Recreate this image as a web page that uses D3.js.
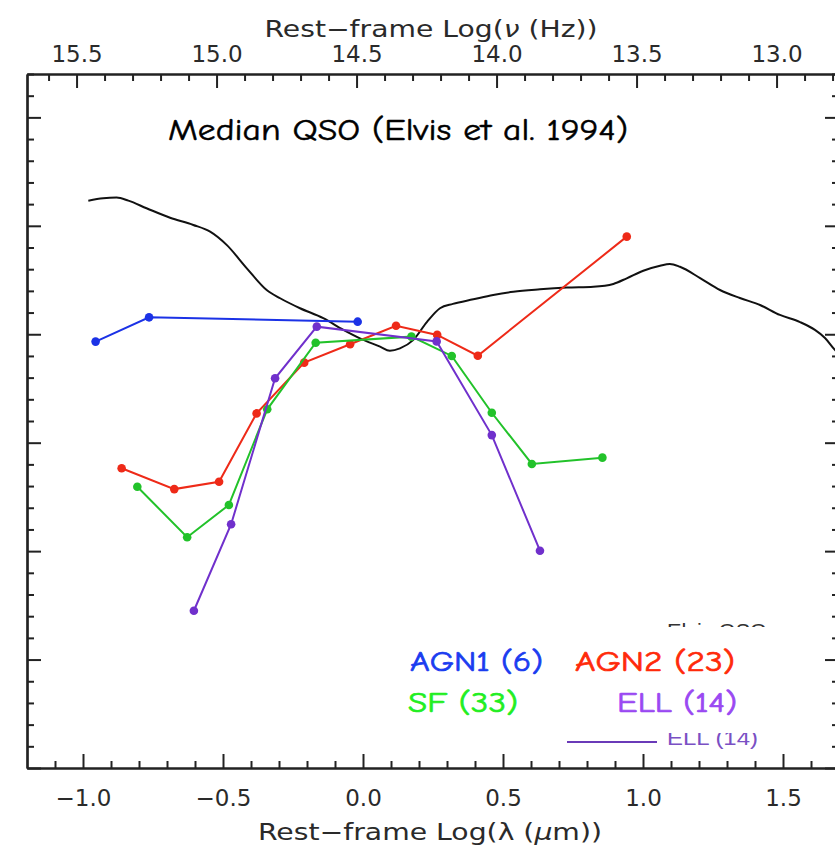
<!DOCTYPE html>
<html>
<head>
<meta charset="utf-8">
<script src="https://cdn.jsdelivr.net/npm/d3@7"></script>
<style>
  html, body { margin: 0; padding: 0; background: #fff; }
  svg { display: block; }
  .ax { font-family: "DejaVu Sans", sans-serif; fill: #2a2a2a; }
  .comic { font-family: "Comic Sans MS", "Comic Neue", "Open Sans", sans-serif; }
</style>
</head>
<body>
<svg id="chart" width="835" height="849"></svg>
<script>
// ---------------- DATA ----------------
// x: Rest-frame log(lambda / micron); y: normalised log(nu L_nu) (arbitrary units, axis unlabelled)
const agn1X = [-0.955, -0.764, -0.019];
const agn1Y = [-0.034, 0.078, 0.058];

const agn2X = [-0.862, -0.674, -0.514, -0.380, -0.210, -0.046, 0.118, 0.265, 0.410, 0.942];
const agn2Y = [-0.618, -0.714, -0.680, -0.365, -0.131, -0.046, 0.039, -0.003, -0.099, 0.450];

const sfX = [-0.806, -0.628, -0.479, -0.342, -0.169, 0.173, 0.317, 0.460, 0.603, 0.855];
const sfY = [-0.703, -0.936, -0.787, -0.346, -0.039, -0.011, -0.100, -0.362, -0.598, -0.569];

const ellX = [-0.604, -0.471, -0.314, -0.165, 0.263, 0.460, 0.632];
const ellY = [-1.275, -0.876, -0.203, 0.035, -0.033, -0.465, -0.998];

// Median QSO SED (Elvis et al. 1994)
const qsoX = [-0.981, -0.928, -0.880, -0.838, -0.773, -0.689, -0.606, -0.546, -0.487, -0.415,
              -0.344, -0.296, -0.225, -0.142, -0.070, -0.011, 0.061, 0.096, 0.132, 0.179,
              0.228, 0.275, 0.321, 0.394, 0.465, 0.537, 0.632, 0.728, 0.823, 0.894,
              0.942, 1.001, 1.061, 1.096, 1.132, 1.204, 1.275, 1.346, 1.418, 1.489,
              1.561, 1.614, 1.650, 1.686, 1.700];
const qsoY = [0.616, 0.627, 0.630, 0.616, 0.581, 0.537, 0.504, 0.473, 0.412, 0.304,
              0.204, 0.166, 0.120, 0.074, 0.020, -0.019, -0.057, -0.076, -0.065, -0.027,
              0.056, 0.120, 0.140, 0.161, 0.181, 0.196, 0.207, 0.215, 0.219, 0.232,
              0.258, 0.293, 0.316, 0.324, 0.311, 0.259, 0.204, 0.167, 0.135, 0.089,
              0.056, 0.020, -0.017, -0.073, -0.090];

const lamMajorTicks = [-1.0, -0.5, 0.0, 0.5, 1.0, 1.5];
const lamTickLabels = ["\u22121.0", "\u22120.5", "0.0", "0.5", "1.0", "1.5"];
const nuMajorTicks = [15.5, 15.0, 14.5, 14.0, 13.5, 13.0];
const nuTickLabels = ["15.5", "15.0", "14.5", "14.0", "13.5", "13.0"];

const seriesNames = ["AGN1 (6)", "AGN2 (23)", "SF (33)", "ELL (14)"];
const mainLabel = "Median QSO (Elvis et al. 1994)";

// ---------------- LAYOUT ----------------
const svg = d3.select("#chart");
const L = 27, R = 839, T = 74, B = 768;
const LOGC = 14.477; // log10(c in micron/s)

const x = d3.scaleLinear().domain([-1.2, 1.7]).range([L, R]);
const xNu = d3.scaleLinear().domain([LOGC + 1.2, LOGC - 1.7]).range([L, R]);
const y = d3.scaleLinear().domain([-2.0, 1.2]).range([B, T]);

const axisColor = "#222";

svg.append("clipPath").attr("id", "clip")
  .append("rect").attr("x", L).attr("y", T).attr("width", R - L).attr("height", B - T);

// ---------------- AXES ----------------
const minorLam = d3.range(-11, 17).map(d => d / 10).filter(d => lamMajorTicks.every(m => Math.abs(m - d) > 1e-6));
const minorNu = d3.range(128, 157).map(d => d / 10).filter(d => d <= LOGC + 1.2 && d >= LOGC - 1.7)
  .filter(d => nuMajorTicks.every(m => Math.abs(m - d) > 1e-6));
const yMajor = d3.range(-2.0, 1.21, 0.5).map(d => +d.toFixed(2));
const yMinor = d3.range(-20, 13).map(d => d / 10).filter(d => yMajor.every(m => Math.abs(m - d) > 1e-6));

const bottomAxis = d3.axisBottom(x).tickValues(lamMajorTicks).tickFormat((d, i) => lamTickLabels[i]).tickSize(-14).tickSizeOuter(0).tickPadding(22);
const gB = svg.append("g").attr("transform", `translate(0,${B})`).call(bottomAxis);
const bottomMinor = d3.axisBottom(x).tickValues(minorLam).tickFormat("").tickSize(-7).tickSizeOuter(0);
const gBm = svg.append("g").attr("transform", `translate(0,${B})`).call(bottomMinor);

const topAxis = d3.axisTop(xNu).tickValues(nuMajorTicks).tickFormat((d, i) => nuTickLabels[i]).tickSize(-14).tickSizeOuter(0).tickPadding(12);
const gT = svg.append("g").attr("transform", `translate(0,${T})`).call(topAxis);
const topMinor = d3.axisTop(xNu).tickValues(minorNu).tickFormat("").tickSize(-7).tickSizeOuter(0);
const gTm = svg.append("g").attr("transform", `translate(0,${T})`).call(topMinor);

const leftAxis = d3.axisLeft(y).tickValues(yMajor).tickFormat("").tickSize(-14).tickSizeOuter(0);
const gL = svg.append("g").attr("transform", `translate(${L},0)`).call(leftAxis);
const leftMinor = d3.axisLeft(y).tickValues(yMinor).tickFormat("").tickSize(-7).tickSizeOuter(0);
const gLm = svg.append("g").attr("transform", `translate(${L},0)`).call(leftMinor);

const rightAxis = d3.axisRight(y).tickValues(yMajor).tickFormat("").tickSize(-14).tickSizeOuter(0);
const gR = svg.append("g").attr("transform", `translate(${R},0)`).call(rightAxis);
const rightMinor = d3.axisRight(y).tickValues(yMinor).tickFormat("").tickSize(-7).tickSizeOuter(0);
const gRm = svg.append("g").attr("transform", `translate(${R},0)`).call(rightMinor);

[gB, gBm, gT, gTm, gL, gLm, gR, gRm].forEach(g => {
  g.selectAll("path.domain").attr("stroke", axisColor).attr("stroke-width", 2.2);
  g.selectAll(".tick line").attr("stroke", axisColor).attr("stroke-width", 2);
  g.selectAll(".tick text").attr("class", "ax").attr("font-size", 23).attr("fill", "#2a2a2a")
    .attr("font-family", "DejaVu Sans, sans-serif");
});

const bt = svg.append("text").attr("class", "ax").attr("x", 430).attr("y", 840)
  .attr("text-anchor", "middle").attr("font-size", 23)
  .attr("textLength", 344).attr("lengthAdjust", "spacingAndGlyphs");
bt.append("tspan").text("Rest\u2212frame Log(\u03bb (");
bt.append("tspan").attr("font-style", "italic").text("\u03bc");
bt.append("tspan").text("m))");

const tt = svg.append("text").attr("class", "ax").attr("x", 431).attr("y", 37)
  .attr("text-anchor", "middle").attr("font-size", 23)
  .attr("textLength", 333).attr("lengthAdjust", "spacingAndGlyphs");
tt.append("tspan").text("Rest\u2212frame Log(");
tt.append("tspan").attr("font-style", "italic").text("\u03bd");
tt.append("tspan").text(" (Hz))");

// ---------------- DATA LINES ----------------
const plot = svg.append("g").attr("clip-path", "url(#clip)");

const qsoLine = d3.line().x((d, i) => x(qsoX[i])).y((d, i) => y(qsoY[i])).curve(d3.curveMonotoneX);
plot.append("path").datum(qsoX).attr("d", qsoLine)
  .attr("fill", "none").attr("stroke", "#111").attr("stroke-width", 2);

const series = [
  { xs: agn1X, ys: agn1Y, color: "#1b32e6" },
  { xs: agn2X, ys: agn2Y, color: "#ee2a18" },
  { xs: sfX, ys: sfY, color: "#22c22a" },
  { xs: ellX, ys: ellY, color: "#7030cc" }
];
series.forEach(s => {
  const pts = s.xs.map((v, i) => [v, s.ys[i]]);
  plot.append("path").datum(pts)
    .attr("d", d3.line().x(d => x(d[0])).y(d => y(d[1])))
    .attr("fill", "none").attr("stroke", s.color).attr("stroke-width", 2);
  plot.selectAll(null).data(pts).enter().append("circle")
    .attr("cx", d => x(d[0])).attr("cy", d => y(d[1])).attr("r", 4.3)
    .attr("fill", s.color);
});

// ---------------- OLD (covered) LEGEND ----------------
svg.append("text").attr("x", 667).attr("y", 638).attr("font-family", "Liberation Sans, Arial, sans-serif")
  .attr("font-size", 21).attr("fill", "#333").text("Elvis QSO")
  .attr("textLength", 100).attr("lengthAdjust", "spacingAndGlyphs");
svg.append("line").attr("x1", 567).attr("x2", 657).attr("y1", 742).attr("y2", 742)
  .attr("stroke", "#6a3ab8").attr("stroke-width", 2);
svg.append("text").attr("x", 667).attr("y", 745).attr("font-family", "Liberation Sans, Arial, sans-serif")
  .attr("font-size", 21).attr("fill", "#7a50c4").text("ELL (14)")
  .attr("textLength", 91).attr("lengthAdjust", "spacingAndGlyphs");
svg.append("rect").attr("x", 380).attr("y", 627).attr("width", 430).attr("height", 106).attr("fill", "#fff");

// ---------------- NEW LEGEND ----------------
const legendItems = [
  { text: seriesNames[0], x: 410, y: 671, w: 133, color: "#1a3cf0" },
  { text: seriesNames[1], x: 575, y: 671, w: 160, color: "#ff2a0a" },
  { text: seriesNames[2], x: 408, y: 712, w: 110, color: "#22ee22" },
  { text: seriesNames[3], x: 617, y: 712, w: 120, color: "#9a48f2" }
];
svg.selectAll(null).data(legendItems).enter().append("text")
  .attr("class", "comic").attr("x", d => d.x).attr("y", d => d.y)
  .attr("font-size", 29).attr("fill", d => d.color)
  .attr("stroke", d => d.color).attr("stroke-width", 0.7)
  .attr("textLength", d => d.w).attr("lengthAdjust", "spacingAndGlyphs")
  .text(d => d.text);

svg.append("text").attr("class", "comic").attr("x", 168).attr("y", 140)
  .attr("font-size", 30).attr("fill", "#000").attr("stroke", "#000").attr("stroke-width", 0.5)
  .attr("textLength", 460).attr("lengthAdjust", "spacingAndGlyphs")
  .text(mainLabel);
</script>
</body>
</html>
